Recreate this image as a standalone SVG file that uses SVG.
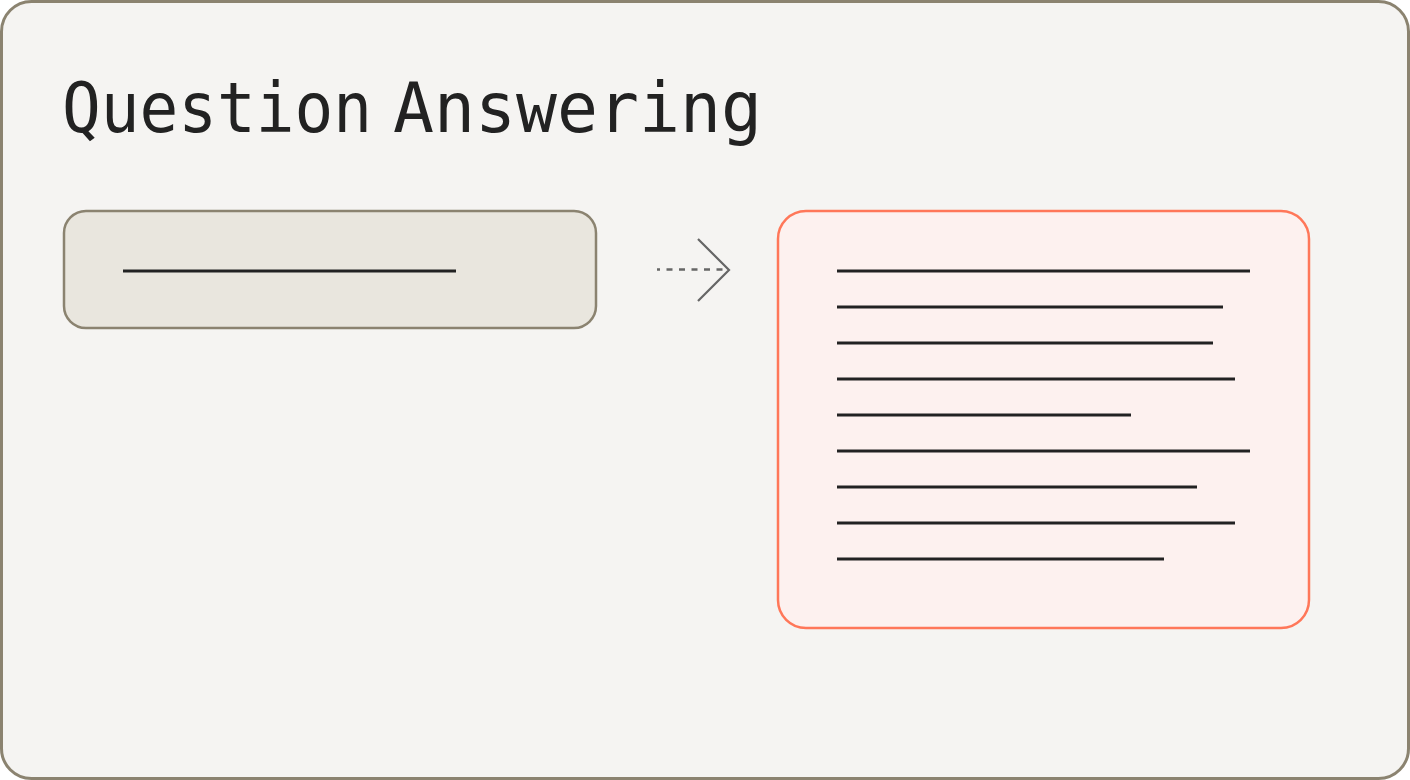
<svg xmlns="http://www.w3.org/2000/svg" width="1410" height="780" viewBox="0 0 1410 780">
<style>
.txtline{stroke:#222222;stroke-width:3;fill:none}
.title{font-family:"DejaVu Sans Mono","Liberation Mono",monospace;font-size:70px;fill:#222222}
</style>
<g id="frame">
<rect x="1.5" y="1.5" width="1407" height="777" rx="30" fill="#f5f4f2" stroke="#8b8370" stroke-width="3"/>
<text class="title" y="132"><tspan x="62" textLength="310" lengthAdjust="spacingAndGlyphs">Question</tspan> <tspan x="393" textLength="369" lengthAdjust="spacingAndGlyphs">Answering</tspan></text>
</g>
<g id="question">
<rect x="64" y="211" width="532" height="117" rx="22" fill="#e9e6de" stroke="#8b8370" stroke-width="2.5"/>
<line class="txtline" x1="123" y1="271" x2="456" y2="271"/>
</g>
<g id="connectors">
<line x1="657" y1="269.5" x2="727" y2="269.5" stroke="#666666" stroke-width="2.5" stroke-dasharray="6 6.5" stroke-dashoffset="3"/>
<polyline points="698,239 729,270 698,301" fill="none" stroke="#666666" stroke-width="2.2"/>
</g>
<g id="answer">
<rect x="778" y="211" width="531" height="417" rx="28" fill="#fdf1ef" stroke="#ff7759" stroke-width="2.5"/>
<line class="txtline" x1="837" y1="271" x2="1250" y2="271"/>
<line class="txtline" x1="837" y1="307" x2="1223" y2="307"/>
<line class="txtline" x1="837" y1="343" x2="1213" y2="343"/>
<line class="txtline" x1="837" y1="379" x2="1235" y2="379"/>
<line class="txtline" x1="837" y1="415" x2="1131" y2="415"/>
<line class="txtline" x1="837" y1="451" x2="1250" y2="451"/>
<line class="txtline" x1="837" y1="487" x2="1197" y2="487"/>
<line class="txtline" x1="837" y1="523" x2="1235" y2="523"/>
<line class="txtline" x1="837" y1="559" x2="1164" y2="559"/>
</g>
</svg>
